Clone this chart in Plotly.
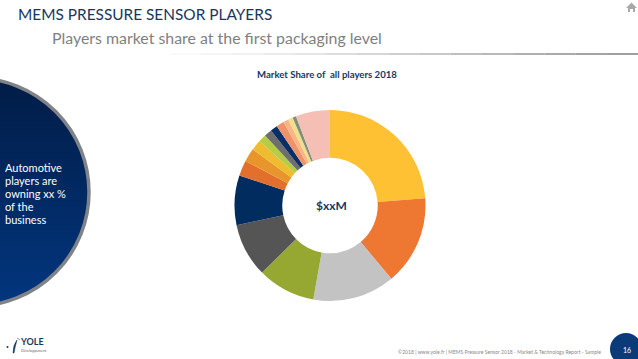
import base64
import plotly.graph_objects as go

W, H = 638, 359

players = ["Player 1", "Player 2", "Player 3", "Player 4", "Player 5", "Player 6", "Player 7", "Player 8",
           "Player 9", "Player 10", "Player 11", "Player 12", "Player 13", "Player 14", "Player 15", "Player 16", "Others"]
shares = [23.8, 15.1, 13.9, 9.8, 9.1, 8.4, 2.6, 2.3, 1.8, 1.3, 1.3, 1.2, 1.3, 0.9, 0.8, 0.6, 5.8]
colors = ["#FFC134", "#EE7732", "#C3C3C3", "#97A832", "#555555", "#002C60", "#E2702C", "#E8952B",
          "#EFBC2F", "#B5CC45", "#6E6E6E", "#0A2E66", "#F0936B", "#F9B585", "#F3DE8C", "#7F8F7A", "#F6BFB5"]

title_text = "MEMS PRESSURE SENSOR PLAYERS"
subtitle_text = "Players market share at the first packaging level"
chart_title = "Market Share of  all players 2018"
center_text = "$xxM"
bubble_lines = ["Automotive", "players are", "owning xx %", "of the", "business"]
footer_text = "©2018 | www.yole.fr | MEMS Pressure Sensor 2018 - Market & Technology Report - Sample"
page_number = "16"
logo_name = "YOLE"
logo_sub = "Développement"
rule_greys = [248, 242, 236, 228, 220, 210, 200, 190, 180, 170, 160, 150, 142, 134, 128]

def px(x): return x / W
def py(y): return 1 - y / H

cx, cy, r = 330.0, 205.5, 95.5

fig = go.Figure(go.Pie(
    labels=players, values=shares, hole=0.5, sort=False, direction="clockwise", rotation=0,
    marker=dict(colors=colors, line=dict(width=0)), textinfo="none", showlegend=False,
    domain=dict(x=[px(cx - r), px(cx + r)], y=[py(cy + r), py(cy - r)]),
))

def uri(svg):
    return "data:image/svg+xml;base64," + base64.b64encode(svg.encode()).decode()

bubble_svg = ('<svg xmlns="http://www.w3.org/2000/svg" width="116" height="232" viewBox="0 0 116 232">'
              '<defs><linearGradient id="g" x1="0" y1="0" x2="0" y2="1">'
              '<stop offset="0" stop-color="#011c46"/><stop offset="1" stop-color="#02367f"/></linearGradient></defs>'
              '<circle cx="0" cy="116" r="114" fill="url(#g)" stroke="#808488" stroke-width="3.5"/></svg>')
images = [
    dict(source=uri(bubble_svg), xref="paper", yref="paper", x=px(-25), y=py(76), sizex=px(116), sizey=232 / H,
         xanchor="left", yanchor="top", sizing="stretch", layer="below"),
]

shapes = [
    dict(type="circle", xref="paper", yref="paper", x0=px(610), x1=px(642), y0=py(365), y1=py(333),
         fillcolor="#0B3A78", line=dict(width=0)),
    dict(type="path", xref="paper", yref="paper",
         path=f"M {px(626)} {py(8)} L {px(631.5)} {py(2.5)} L {px(637)} {py(8)} L {px(635)} {py(8)} L {px(635)} {py(12)} "
              f"L {px(633)} {py(12)} L {px(633)} {py(9)} L {px(630)} {py(9)} L {px(630)} {py(12)} L {px(628)} {py(12)} L {px(628)} {py(8)} Z",
         fillcolor="#A8A8A8", line=dict(width=0)),
    # logo mark
    dict(type="path", xref="paper", yref="paper",
         path=f"M {px(13)} {py(353)} Q {px(13)} {py(345)} {px(17)} {py(340)} Q {px(15)} {py(347)} {px(14)} {py(353)} Z",
         fillcolor="#17375E", line=dict(width=0.5, color="#17375E")),
    dict(type="circle", xref="paper", yref="paper", x0=px(6.5), x1=px(8.5), y0=py(348), y1=py(346),
         fillcolor="#17375E", line=dict(width=0)),
    dict(type="line", xref="paper", yref="paper", x0=px(17), x1=px(20), y0=py(338), y1=py(340),
         line=dict(color="#9A9A9A", width=1)),
]
# header rule, fading out towards the left
seg = (638 - 170) / len(rule_greys)
for i, g in enumerate(rule_greys):
    shapes.append(dict(type="line", xref="paper", yref="paper", x0=px(170 + i * seg), x1=px(170 + (i + 1) * seg),
                       y0=py(54), y1=py(54), line=dict(color=f"rgb({g},{g},{g})", width=1.5)))

def note(x, y, text, size, color, anchor="left", bold=False, family="Lato"):
    t = f"<b>{text}</b>" if bold else text
    return dict(xref="paper", yref="paper", x=px(x), y=py(y), text=t, showarrow=False, xanchor=anchor, yanchor="middle",
                font=dict(size=size, color=color, family=family))

annotations = [
    note(16, 14, title_text, 15.4, "#17375E"),
    note(50, 38, subtitle_text, 15.9, "#7F7F7F"),
    note(327, 74, chart_title, 9.6, "#17375E", "center", True),
    note(331, 205, center_text, 12, "#17375E", "center", True),
    note(396, 352, footer_text, 5.05, "#8A8A8A"),
    note(627, 350, page_number, 7, "#FFFFFF", "center"),
    note(18, 341, logo_name, 9, "#17375E", "left", True),
    note(19, 350.5, logo_sub, 3.6, "#666666"),
]
for i, line in enumerate(bubble_lines):
    annotations.append(note(3, 167 + i * 13, line, 11, "#FFFFFF"))

fig.update_layout(width=W, height=H, margin=dict(l=0, r=0, t=0, b=0), paper_bgcolor="white",
                  images=images, shapes=shapes, annotations=annotations, font=dict(family="Lato"))

fig.write_html("out.html", config=dict(displayModeBar=False),
               post_script="document.body.style.margin='0';document.body.style.overflow='hidden';")
